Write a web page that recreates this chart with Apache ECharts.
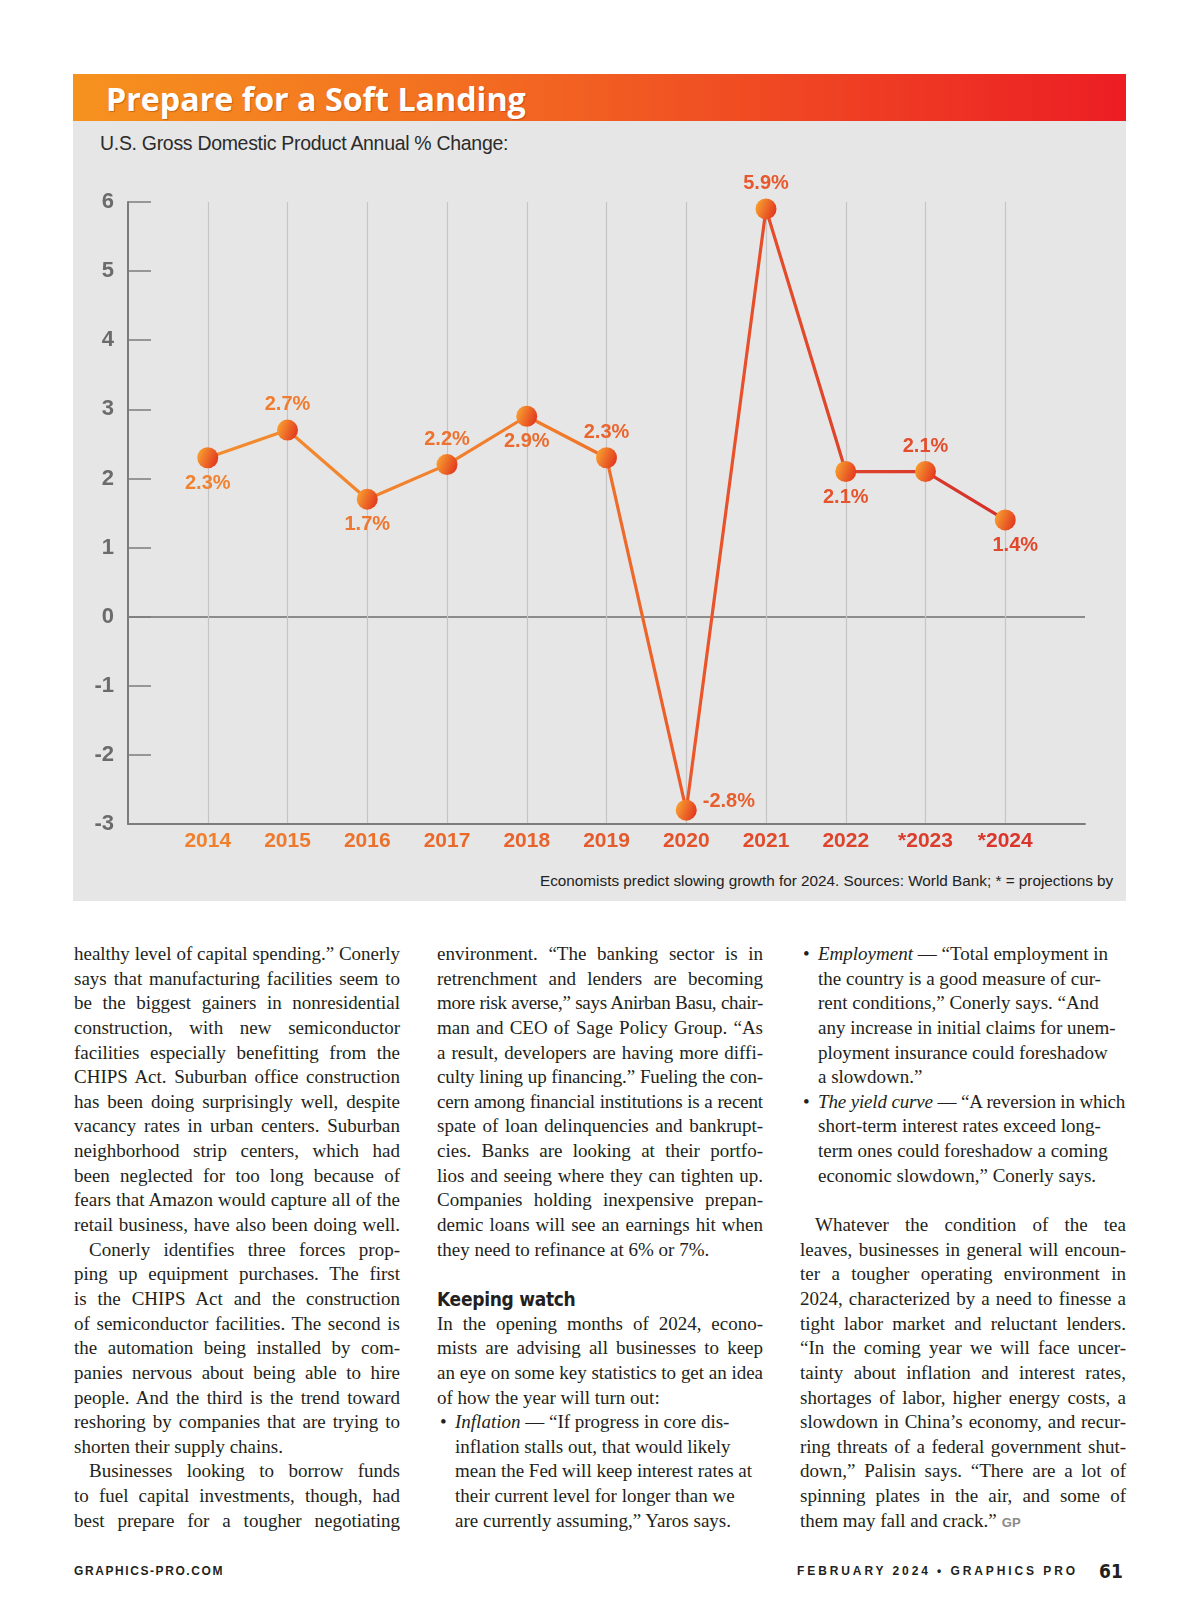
<!DOCTYPE html>
<html>
<head>
<meta charset="utf-8">
<script src="https://cdn.jsdelivr.net/npm/echarts@6.0.0/dist/echarts.min.js"></script>
<style>
html,body{margin:0;padding:0;background:#fff;}
body{width:1200px;height:1606px;position:relative;overflow:hidden;}
#bar{position:absolute;left:73px;top:74px;width:1053px;height:47px;background:linear-gradient(90deg,#f6921e 0%,#f37021 35%,#ef4423 70%,#ec1d24 100%);}
#panel{position:absolute;left:73px;top:121px;width:1053px;height:780px;background:#e6e6e6;}
#chart{position:absolute;left:0;top:0;width:1200px;height:910px;}
.abs{position:absolute;white-space:nowrap;transform:translateY(-50%);line-height:1.2;}
#title{left:106px;top:99px;font-family:'Open Sans';font-weight:700;font-size:28px;color:#fff;text-shadow:1px 1px 1px rgba(120,30,0,.35);}
#subtitle{left:100px;top:144px;font-family:'Liberation Sans';font-size:19px;color:#2b2b2b;letter-spacing:-0.3px;}
#note{left:540px;top:881px;font-family:'Liberation Sans';font-size:16px;color:#222;}
.col{position:absolute;top:942px;width:326px;font-family:'Liberation Serif';font-size:19px;line-height:24.65px;color:#231f20;}
.l{height:24.65px;overflow:visible;}
.j{text-align:justify;text-align-last:justify;}
.ind{text-indent:15px;}
.b{padding-left:18px;position:relative;}
.dot{position:absolute;left:3px;top:0;}
.h{font-family:'DejaVu Sans Condensed','DejaVu Sans';font-weight:700;font-size:19px;letter-spacing:-0.3px;}
.gp{font-family:'Liberation Sans';font-weight:700;font-size:13px;color:#8a8a8a;margin-left:5px;}
.foot{font-family:'Liberation Sans';font-weight:700;font-size:12px;color:#231f20;}
</style>
</head>
<body>
<div id="bar"></div>
<div id="panel"></div>
<div id="title" class="abs">Prepare for a Soft Landing</div>
<div id="subtitle" class="abs">U.S. Gross Domestic Product Annual % Change:</div>
<div id="note" class="abs">Economists predict slowing growth for 2024. Sources: World Bank; * = projections by</div>
<div id="chart"></div>

<div class="col" style="left:74px">
<div class="l j">healthy level of capital spending.” Conerly</div>
<div class="l j">says that manufacturing facilities seem to</div>
<div class="l j">be the biggest gainers in nonresidential</div>
<div class="l j">construction, with new semiconductor</div>
<div class="l j">facilities especially benefitting from the</div>
<div class="l j">CHIPS Act. Suburban office construction</div>
<div class="l j">has been doing surprisingly well, despite</div>
<div class="l j">vacancy rates in urban centers. Suburban</div>
<div class="l j">neighborhood strip centers, which had</div>
<div class="l j">been neglected for too long because of</div>
<div class="l j">fears that Amazon would capture all of the</div>
<div class="l j">retail business, have also been doing well.</div>
<div class="l j ind">Conerly identifies three forces prop-</div>
<div class="l j">ping up equipment purchases. The first</div>
<div class="l j">is the CHIPS Act and the construction</div>
<div class="l j">of semiconductor facilities. The second is</div>
<div class="l j">the automation being installed by com-</div>
<div class="l j">panies nervous about being able to hire</div>
<div class="l j">people. And the third is the trend toward</div>
<div class="l j">reshoring by companies that are trying to</div>
<div class="l">shorten their supply chains.</div>
<div class="l j ind">Businesses looking to borrow funds</div>
<div class="l j">to fuel capital investments, though, had</div>
<div class="l j">best prepare for a tougher negotiating</div>
</div>

<div class="col" style="left:437px">
<div class="l j">environment. “The banking sector is in</div>
<div class="l j">retrenchment and lenders are becoming</div>
<div class="l j">more risk averse,” says Anirban Basu, chair-</div>
<div class="l j">man and CEO of Sage Policy Group. “As</div>
<div class="l j">a result, developers are having more diffi-</div>
<div class="l j">culty lining up financing.” Fueling the con-</div>
<div class="l j">cern among financial institutions is a recent</div>
<div class="l j">spate of loan delinquencies and bankrupt-</div>
<div class="l j">cies. Banks are looking at their portfo-</div>
<div class="l j">lios and seeing where they can tighten up.</div>
<div class="l j">Companies holding inexpensive prepan-</div>
<div class="l j">demic loans will see an earnings hit when</div>
<div class="l">they need to refinance at 6% or 7%.</div>
<div class="l"></div>
<div class="l h">Keeping watch</div>
<div class="l j">In the opening months of 2024, econo-</div>
<div class="l j">mists are advising all businesses to keep</div>
<div class="l j">an eye on some key statistics to get an idea</div>
<div class="l">of how the year will turn out:</div>
<div class="l b"><span class="dot">•</span><span class="t"><i>Inflation</i> — “If progress in core dis-</span></div>
<div class="l b"><span class="t">inflation stalls out, that would likely</span></div>
<div class="l b"><span class="t">mean the Fed will keep interest rates at</span></div>
<div class="l b"><span class="t">their current level for longer than we</span></div>
<div class="l b"><span class="t">are currently assuming,” Yaros says.</span></div>
</div>

<div class="col" style="left:800px">
<div class="l b"><span class="dot">•</span><span class="t"><i>Employment</i> — “Total employment in</span></div>
<div class="l b"><span class="t">the country is a good measure of cur-</span></div>
<div class="l b"><span class="t">rent conditions,” Conerly says. “And</span></div>
<div class="l b"><span class="t">any increase in initial claims for unem-</span></div>
<div class="l b"><span class="t">ployment insurance could foreshadow</span></div>
<div class="l b"><span class="t">a slowdown.”</span></div>
<div class="l b"><span class="dot">•</span><span class="t"><i>The yield curve</i> — “A reversion in which</span></div>
<div class="l b"><span class="t">short-term interest rates exceed long-</span></div>
<div class="l b"><span class="t">term ones could foreshadow a coming</span></div>
<div class="l b"><span class="t">economic slowdown,” Conerly says.</span></div>
<div class="l"></div>
<div class="l j ind">Whatever the condition of the tea</div>
<div class="l j">leaves, businesses in general will encoun-</div>
<div class="l j">ter a tougher operating environment in</div>
<div class="l j">2024, characterized by a need to finesse a</div>
<div class="l j">tight labor market and reluctant lenders.</div>
<div class="l j">“In the coming year we will face uncer-</div>
<div class="l j">tainty about inflation and interest rates,</div>
<div class="l j">shortages of labor, higher energy costs, a</div>
<div class="l j">slowdown in China’s economy, and recur-</div>
<div class="l j">ring threats of a federal government shut-</div>
<div class="l j">down,” Palisin says. “There are a lot of</div>
<div class="l j">spinning plates in the air, and some of</div>
<div class="l">them may fall and crack.”<span class="gp">GP</span></div>
</div>

<div id="f1" class="abs foot" style="left:74px;top:1571px;">GRAPHICS-PRO.COM</div>
<div id="f2" class="abs foot" style="left:797px;top:1571px;">FEBRUARY 2024 • GRAPHICS PRO</div>
<div id="f3" class="abs foot" style="left:1099px;top:1571px;font-size:19px;font-family:'DejaVu Sans Condensed','DejaVu Sans';">61</div>

<script>
// ---------- data ----------
const categories = ['2014', '2015', '2016', '2017', '2018', '2019', '2020', '2021', '2022', '*2023', '*2024'];
const gdpChange = [2.3, 2.7, 1.7, 2.2, 2.9, 2.3, -2.8, 5.9, 2.1, 2.1, 1.4];
const yTicks = [-3, -2, -1, 0, 1, 2, 3, 4, 5, 6];

// ---------- label styling (not data) ----------
const labelPlacement = ['bottom', 'top', 'bottom', 'top', 'bottom', 'top', 'right', 'top', 'bottom', 'top', 'bottom'];
const labelShift = [[0,0],[0,0],[0,0],[0,0],[0,0],[0,0],[1,-9],[0,0],[0,0],[0,0],[10,0]];

// ---------- text fitting ----------
function fitWidth(id, w) {
  const el = document.getElementById(id);
  const cur = el.getBoundingClientRect().width;
  const fs = parseFloat(getComputedStyle(el).fontSize);
  el.style.fontSize = (fs * w / cur) + 'px';
}
function fitSpacing(id, w) {
  const el = document.getElementById(id);
  const cur = el.getBoundingClientRect().width;
  const n = el.textContent.length;
  el.style.letterSpacing = ((w - cur) / n) + 'px';
}
fitWidth('title', 420);
fitWidth('subtitle', 408);
fitWidth('note', 574);
fitSpacing('f1', 150);
fitSpacing('f2', 281);

document.querySelectorAll('.col .l').forEach(el => {
  const cs = getComputedStyle(el);
  let avail = el.clientWidth - parseFloat(cs.paddingLeft) - parseFloat(cs.paddingRight);
  if (el.classList.contains('ind')) avail -= 15;
  const c = el.cloneNode(true);
  c.querySelectorAll('.dot').forEach(d => d.remove());
  c.style.cssText = 'position:absolute;visibility:hidden;white-space:nowrap;display:inline-block;padding:0;text-indent:0;width:auto;height:auto;';
  c.style.fontFamily = cs.fontFamily; c.style.fontSize = cs.fontSize; c.style.fontWeight = cs.fontWeight;
  document.body.appendChild(c);
  const w = c.getBoundingClientRect().width;
  c.remove();
  if (w > avail - 0.5) {
    const n = el.textContent.length;
    el.style.letterSpacing = ((avail - w - 1) / n) + 'px';
  }
  el.style.whiteSpace = 'nowrap';
});

// ---------- chart ----------
function rampColor(i, a, b) {
  const t = i / (categories.length - 1);
  const c = a.map((v, k) => Math.round(v + (b[k] - v) * t));
  return 'rgb(' + c.join(',') + ')';
}
const yearColor = i => rampColor(i, [240, 128, 44], [218, 52, 43]);
const valueColor = i => rampColor(i, [241, 130, 48], [226, 72, 44]);
const clear = 'rgba(0,0,0,0)';
const xSplitColors = [clear].concat(categories.map(() => '#c5c5c5')).concat([clear]);
const ySplitColors = yTicks.map(t => t === 0 ? '#8c8c8c' : clear);

const chart = echarts.init(document.getElementById('chart'), null, {renderer: 'canvas'});
chart.setOption({
  animation: false,
  backgroundColor: 'transparent',
  grid: {left: 128, top: 202, width: 957, height: 622, containLabel: false, outerBoundsMode: 'none'},
  xAxis: {
    type: 'value', min: -1, max: categories.length, interval: 1,
    axisLine: {show: true, onZero: false, lineStyle: {color: '#7c7c7c', width: 2}},
    axisTick: {show: false},
    splitLine: {show: true, lineStyle: {color: xSplitColors, width: 1.2}},
    axisLabel: {
      margin: 7, fontSize: 21, fontWeight: 'bold', fontFamily: 'Liberation Sans',
      formatter: v => (categories[v] !== undefined ? categories[v] : ''),
      color: v => yearColor(v),
      showMinLabel: true, showMaxLabel: true
    }
  },
  yAxis: {
    type: 'value', min: yTicks[0], max: yTicks[yTicks.length - 1], interval: 1,
    axisLine: {show: true, onZero: false, lineStyle: {color: '#7c7c7c', width: 2}},
    axisTick: {show: true, inside: true, length: 23, lineStyle: {color: '#7c7c7c', width: 1.5}},
    splitLine: {show: true, lineStyle: {color: ySplitColors, width: 2}},
    axisLabel: {margin: 14, fontSize: 22, fontWeight: 'bold', fontFamily: 'Liberation Sans', color: '#6b6b6b'}
  },
  series: [{
    type: 'line',
    data: gdpChange.map((v, i) => ({
      value: [i, v],
      label: {position: labelPlacement[i], offset: labelShift[i], color: valueColor(i)}
    })),
    symbol: 'circle', symbolSize: 21,
    lineStyle: {
      width: 3.2,
      color: {type: 'linear', x: 208, y: 0, x2: 1005, y2: 0, global: true,
        colorStops: [{offset: 0, color: '#f28d2f'}, {offset: 0.45, color: '#f07a2c'},
                     {offset: 0.62, color: '#ea552a'}, {offset: 1, color: '#d3302b'}]}
    },
    itemStyle: {
      color: {type: 'linear', x: 0, y: 0.2, x2: 1, y2: 0.6,
        colorStops: [{offset: 0, color: '#f9a431'}, {offset: 1, color: '#e2381f'}]}
    },
    label: {
      show: true, distance: 5,
      formatter: p => p.value[1].toFixed(1) + '%',
      fontSize: 20, fontWeight: 'bold', fontFamily: 'Liberation Sans'
    },
    emphasis: {disabled: true}
  }]
});
</script>
</body>
</html>
